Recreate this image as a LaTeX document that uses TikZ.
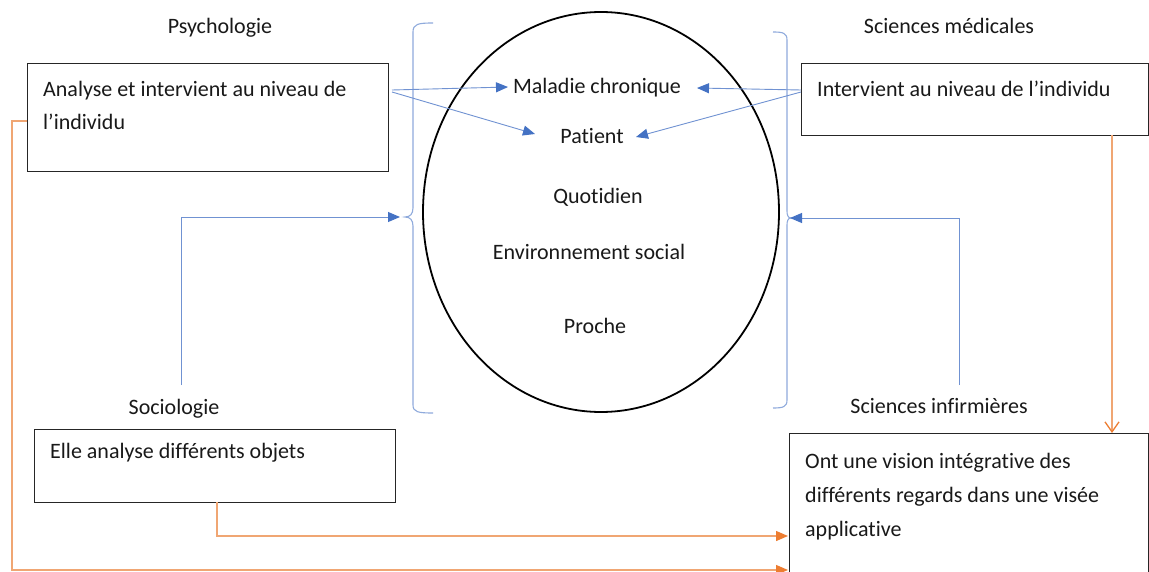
\documentclass[tikz,border=0pt]{standalone}
\usepackage{fontspec}
\setmainfont{Carlito}[Ligatures=CommonOff]
\usetikzlibrary{arrows.meta}
\definecolor{brkblue}{HTML}{8FAADC}
\definecolor{tipblue}{HTML}{4472C4}
\definecolor{lineblue}{HTML}{7092D2}
\definecolor{lineor}{HTML}{F0A673}
\definecolor{tipor}{HTML}{ED7D31}
\begin{document}
\begin{tikzpicture}[x=1pt,y=-1pt,
  box/.style={draw=black!85, line width=1.4pt, rectangle, inner sep=0pt, anchor=north west},
  txt/.style={font=\fontsize{22}{33}\selectfont, inner sep=0pt, anchor=base west, text=black!90},
  lab/.style={font=\fontsize{22}{33}\selectfont, inner sep=0pt, anchor=base, text=black!90},
  brk/.style={draw=brkblue, line width=1.1pt},
  bconn/.style={draw=lineblue, line width=0.9pt, -{Triangle[length=12pt,width=10pt,color=tipblue]}},
  oconn/.style={draw=lineor, line width=1.3pt, -{Triangle[length=12pt,width=10pt,color=tipor]}},
  ovconn/.style={draw=lineor, line width=1.3pt, -{Straight Barb[length=10pt,width=14pt,color=tipor]}}
]
\useasboundingbox (0,0) rectangle (1149,572);
\fill[white] (0,0) rectangle (1149,572);

% ellipse
\draw[line width=1.8pt, black] (601,212) ellipse [x radius=178, y radius=200];

% brackets
\draw[brk] (433,23) .. controls (418,23) and (413,24) .. (413,32) -- (413,208)
  .. controls (413,214) and (410,217) .. (405,217)
  .. controls (410,217) and (413,220) .. (413,226) -- (413,405)
  .. controls (413,412) and (418,413) .. (433,413);
\draw[brk] (773,32) .. controls (783,32) and (787,33) .. (787,40) -- (787,211)
  .. controls (787,215) and (788,218) .. (791,218)
  .. controls (788,218) and (787,221) .. (787,225) -- (787,400)
  .. controls (787,407) and (783,408) .. (773,408);

% labels
\node[lab] (lpsy) at (220,34) {Psychologie};
\node[lab] (lmed) at (949,34) {Sciences médicales};
\node[lab] (lsoc) at (174,414) {Sociologie};
\node[lab] (linf) at (939,413) {Sciences infirmières};

% boxes
\node[box, minimum width=361pt, minimum height=108pt] (psy) at (27,63) {};
\node[txt] (psy1) at (43,97) {Analyse et intervient au niveau de};
\node[txt] (psy2) at (43,130) {l’individu};

\node[box, minimum width=347pt, minimum height=72pt] (med) at (801,63) {};
\node[txt] (med1) at (817,97) {Intervient au niveau de l’individu};

\node[box, minimum width=361pt, minimum height=73pt] (soc) at (34,429) {};
\node[txt] (soc1) at (50,458) {Elle analyse différents objets};

\node[box, minimum width=359pt, minimum height=160pt] (inf) at (789,433) {};
\node[txt] (inf1) at (805,468) {Ont une vision intégrative des};
\node[txt] (inf2) at (805,502) {différents regards dans une visée};
\node[txt] (inf3) at (805,536) {applicative};

% ellipse texts
\node[lab] (mal) at (597,94) {Maladie chronique};
\node[lab] (pat) at (592,144) {Patient};
\node[lab] (quo) at (598,204) {Quotidien};
\node[lab] (env) at (589,259) {Environnement social};
\node[lab] (pro) at (595,333) {Proche};

% coordinates for connector ends
\coordinate (psyA) at (392,90);
\coordinate (psyB) at (392,92);
\coordinate (medA) at (801,90);
\coordinate (medB) at (801,92);
\coordinate (malL) at (508,87);
\coordinate (malR) at (697,88);
\coordinate (patL) at (535,134);
\coordinate (patR) at (636,137);
\coordinate (socUp) at (181,385);
\coordinate (infUp) at (959,385);
\coordinate (brkL) at (400,217);
\coordinate (brkR) at (790,218);

% blue connectors
\draw[bconn] (psyA) -- (malL);
\draw[bconn] (psyB) -- (patL);
\draw[bconn] (medA) -- (malR);
\draw[bconn] (medB) -- (patR);
\draw[bconn] (socUp) |- (brkL);
\draw[bconn] (infUp) |- (brkR);

% orange connectors
\coordinate (psyOut) at (27,121);
\coordinate (infIn1) at (788,536);
\coordinate (infIn2) at (788,570);
\coordinate (socOut) at (217,502);
\coordinate (medOut) at (1112,135);
\coordinate (infTop) at (1112,433);
\draw[oconn] (psyOut) -- (12,121) -- (12,570) -- (infIn2);
\draw[oconn] (socOut) |- (infIn1);
\draw[ovconn] (medOut) -- (infTop);
\end{tikzpicture}
\end{document}
